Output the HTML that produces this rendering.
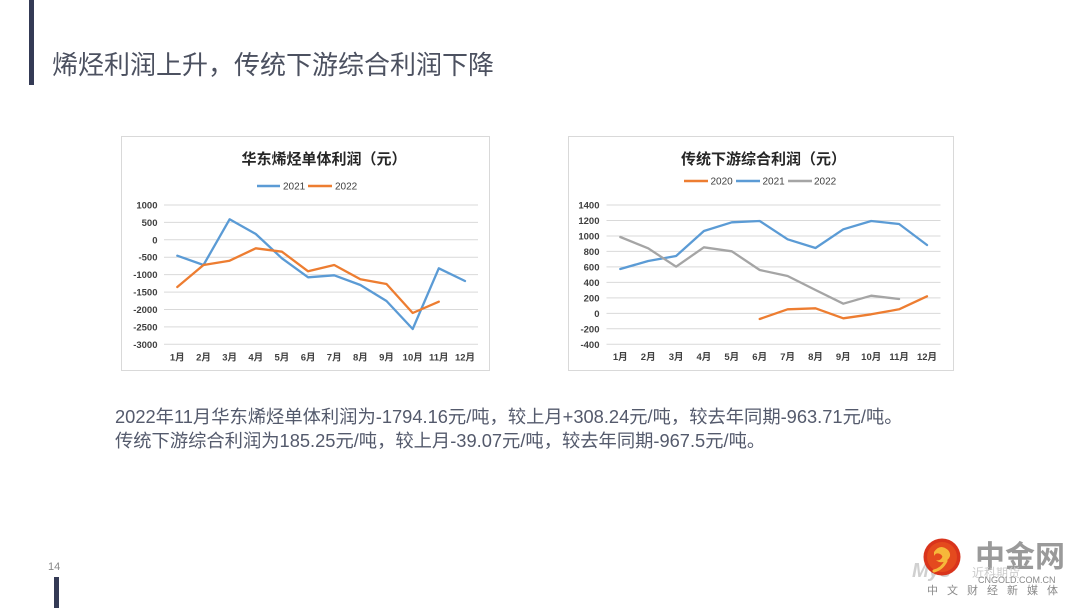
<!DOCTYPE html>
<html>
<head>
<meta charset="utf-8">
<style>
html,body{margin:0;padding:0;background:#fff;}
body{width:1080px;height:608px;position:relative;overflow:hidden;font-family:"Liberation Sans","Noto Sans CJK SC",sans-serif;}
.bar{position:absolute;background:#343a55;}
.title{position:absolute;left:52px;top:49px;font-size:26px;line-height:32px;color:#4c5160;font-family:"Liberation Sans","Noto Sans CJK SC",sans-serif;white-space:nowrap;}
.para{position:absolute;left:115px;top:405px;font-size:18.3px;line-height:24px;color:#545a6c;font-family:"Liberation Sans","Noto Sans CJK SC",sans-serif;white-space:nowrap;}
.pg{position:absolute;left:48px;top:561px;font-size:11px;color:#888;}
svg{position:absolute;left:0;top:0;}
</style>
</head>
<body>
<div class="bar" style="left:29px;top:0;width:5px;height:85px;"></div>
<div class="title">烯烃利润上升，传统下游综合利润下降</div>
<div class="para">2022年11月华东烯烃单体利润为-1794.16元/吨，较上月+308.24元/吨，较去年同期-963.71元/吨。<br>传统下游综合利润为185.25元/吨，较上月-39.07元/吨，较去年同期-967.5元/吨。</div>
<div class="pg">14</div>
<div class="bar" style="left:54px;top:577px;width:5px;height:31px;"></div>

<svg width="1080" height="608" viewBox="0 0 1080 608" xmlns="http://www.w3.org/2000/svg">
  <!-- LEFT CHART -->
  <rect x="121.5" y="136.5" width="368" height="234" fill="#fff" stroke="#d9d9d9" stroke-width="1"/>
  <text x="324" y="164" text-anchor="middle" font-family="Liberation Sans,Noto Sans CJK SC,sans-serif" font-weight="bold" font-size="15" fill="#262626">华东烯烃单体利润（元）</text>
  <line x1="257" y1="186" x2="280" y2="186" stroke="#5b9bd5" stroke-width="2.5"/>
  <text x="283" y="189.5" font-family="Liberation Sans,sans-serif" font-size="10" fill="#404040">2021</text>
  <line x1="308" y1="186" x2="332" y2="186" stroke="#ed7d31" stroke-width="2.5"/>
  <text x="335" y="189.5" font-family="Liberation Sans,sans-serif" font-size="10" fill="#404040">2022</text>
  <g stroke="#d9d9d9" stroke-width="1">
    <line x1="164" y1="205" x2="478" y2="205"/>
    <line x1="164" y1="222.4" x2="478" y2="222.4"/>
    <line x1="164" y1="239.8" x2="478" y2="239.8"/>
    <line x1="164" y1="257.2" x2="478" y2="257.2"/>
    <line x1="164" y1="274.6" x2="478" y2="274.6"/>
    <line x1="164" y1="292.1" x2="478" y2="292.1"/>
    <line x1="164" y1="309.5" x2="478" y2="309.5"/>
    <line x1="164" y1="326.9" x2="478" y2="326.9"/>
    <line x1="164" y1="344.3" x2="478" y2="344.3"/>
  </g>
  <g font-family="Liberation Sans,sans-serif" font-weight="bold" font-size="9.5" fill="#404040" text-anchor="end">
    <text x="157.5" y="208.5">1000</text>
    <text x="157.5" y="225.9">500</text>
    <text x="157.5" y="243.3">0</text>
    <text x="157.5" y="260.7">-500</text>
    <text x="157.5" y="278.1">-1000</text>
    <text x="157.5" y="295.6">-1500</text>
    <text x="157.5" y="313">-2000</text>
    <text x="157.5" y="330.4">-2500</text>
    <text x="157.5" y="347.8">-3000</text>
  </g>
  <g font-family="Liberation Sans,Noto Sans CJK SC,sans-serif" font-weight="bold" font-size="9.5" fill="#404040" text-anchor="middle">
    <text x="177.3" y="360.5">1月</text>
    <text x="203.5" y="360.5">2月</text>
    <text x="229.6" y="360.5">3月</text>
    <text x="255.8" y="360.5">4月</text>
    <text x="281.9" y="360.5">5月</text>
    <text x="308.1" y="360.5">6月</text>
    <text x="334.2" y="360.5">7月</text>
    <text x="360.4" y="360.5">8月</text>
    <text x="386.5" y="360.5">9月</text>
    <text x="412.7" y="360.5">10月</text>
    <text x="438.8" y="360.5">11月</text>
    <text x="465" y="360.5">12月</text>
  </g>
  <polyline fill="none" stroke="#5b9bd5" stroke-width="2.3" stroke-linejoin="round" stroke-linecap="round"
    points="177.3,255.7 203.5,265 229.6,219.3 255.8,234 281.9,258.3 308.1,277.3 334.2,275.3 360.4,285 386.5,301 412.7,329 438.8,268.3 465,281"/>
  <polyline fill="none" stroke="#ed7d31" stroke-width="2.3" stroke-linejoin="round" stroke-linecap="round"
    points="177.3,287 203.5,265 229.6,260.7 255.8,248.3 281.9,251.7 308.1,271.3 334.2,265 360.4,279.3 386.5,284 412.7,313 438.8,301.7"/>

  <!-- RIGHT CHART -->
  <rect x="568.5" y="136.5" width="385" height="234" fill="#fff" stroke="#d9d9d9" stroke-width="1"/>
  <text x="763.5" y="164" text-anchor="middle" font-family="Liberation Sans,Noto Sans CJK SC,sans-serif" font-weight="bold" font-size="15" fill="#262626">传统下游综合利润（元）</text>
  <line x1="684" y1="181" x2="708" y2="181" stroke="#ed7d31" stroke-width="2.5"/>
  <text x="710.5" y="184.5" font-family="Liberation Sans,sans-serif" font-size="10" fill="#404040">2020</text>
  <line x1="736" y1="181" x2="760" y2="181" stroke="#5b9bd5" stroke-width="2.5"/>
  <text x="762.5" y="184.5" font-family="Liberation Sans,sans-serif" font-size="10" fill="#404040">2021</text>
  <line x1="788" y1="181" x2="812" y2="181" stroke="#a5a5a5" stroke-width="2.5"/>
  <text x="814" y="184.5" font-family="Liberation Sans,sans-serif" font-size="10" fill="#404040">2022</text>
  <g stroke="#d9d9d9" stroke-width="1">
    <line x1="606.5" y1="205" x2="940.5" y2="205"/>
    <line x1="606.5" y1="220.5" x2="940.5" y2="220.5"/>
    <line x1="606.5" y1="236" x2="940.5" y2="236"/>
    <line x1="606.5" y1="251.4" x2="940.5" y2="251.4"/>
    <line x1="606.5" y1="266.9" x2="940.5" y2="266.9"/>
    <line x1="606.5" y1="282.4" x2="940.5" y2="282.4"/>
    <line x1="606.5" y1="297.9" x2="940.5" y2="297.9"/>
    <line x1="606.5" y1="313.4" x2="940.5" y2="313.4"/>
    <line x1="606.5" y1="328.8" x2="940.5" y2="328.8"/>
    <line x1="606.5" y1="344.3" x2="940.5" y2="344.3"/>
  </g>
  <g font-family="Liberation Sans,sans-serif" font-weight="bold" font-size="9.5" fill="#404040" text-anchor="end">
    <text x="599.5" y="208.5">1400</text>
    <text x="599.5" y="224">1200</text>
    <text x="599.5" y="239.5">1000</text>
    <text x="599.5" y="254.9">800</text>
    <text x="599.5" y="270.4">600</text>
    <text x="599.5" y="285.9">400</text>
    <text x="599.5" y="301.4">200</text>
    <text x="599.5" y="316.9">0</text>
    <text x="599.5" y="332.3">-200</text>
    <text x="599.5" y="347.8">-400</text>
  </g>
  <g font-family="Liberation Sans,Noto Sans CJK SC,sans-serif" font-weight="bold" font-size="9.5" fill="#404040" text-anchor="middle">
    <text x="620.3" y="360">1月</text>
    <text x="648.2" y="360">2月</text>
    <text x="676.1" y="360">3月</text>
    <text x="703.9" y="360">4月</text>
    <text x="731.8" y="360">5月</text>
    <text x="759.7" y="360">6月</text>
    <text x="787.6" y="360">7月</text>
    <text x="815.5" y="360">8月</text>
    <text x="843.3" y="360">9月</text>
    <text x="871.2" y="360">10月</text>
    <text x="899.1" y="360">11月</text>
    <text x="927" y="360">12月</text>
  </g>
  <polyline fill="none" stroke="#5b9bd5" stroke-width="2.3" stroke-linejoin="round" stroke-linecap="round"
    points="620.3,269 648.2,261 676.1,256 703.9,231 731.8,222.3 759.7,221 787.6,239.3 815.5,248 843.3,229.3 871.2,221 899.1,224 927,245"/>
  <polyline fill="none" stroke="#a5a5a5" stroke-width="2.3" stroke-linejoin="round" stroke-linecap="round"
    points="620.3,237 648.2,248.3 676.1,266.7 703.9,247.3 731.8,251.3 759.7,270 787.6,276 815.5,290 843.3,303.7 871.2,295.7 899.1,299"/>
  <polyline fill="none" stroke="#ed7d31" stroke-width="2.3" stroke-linejoin="round" stroke-linecap="round"
    points="759.7,319 787.6,309.3 815.5,308.3 843.3,318.3 871.2,314.3 899.1,309.3 927,296.3"/>

  <!-- LOGO -->
  <text x="912" y="577" font-family="Liberation Sans,sans-serif" font-style="italic" font-weight="bold" font-size="20" fill="#d0d0d0">Mys</text>
  <circle cx="942" cy="557" r="18.5" fill="#d9341c"/>
  <circle cx="942" cy="557" r="15" fill="#e44a1e"/>
  <path d="M934,552 q6,-9 14,-2 q5,6 -2,11 q-6,3 -10,-1 q3,1 5,-1 q3,-3 -1,-5 q-4,-2 -6,2 z" fill="#f6b83a"/>
  <path d="M946,561 q-4,8 -12,10" fill="none" stroke="#f6b83a" stroke-width="3" stroke-linecap="round"/>
  <text x="975" y="567" font-family="Liberation Sans,Noto Sans CJK SC,sans-serif" font-weight="bold" font-size="30" fill="#9a9a9a">中金网</text>
  <text x="972" y="577" font-family="Liberation Sans,Noto Sans CJK SC,sans-serif" font-size="12" fill="#cccccc">近科期货</text>
  <text x="978" y="583" font-family="Liberation Sans,sans-serif" font-size="9" fill="#8a8a8a">CNGOLD.COM.CN</text>
  <text x="927" y="594" font-family="Liberation Sans,Noto Sans CJK SC,sans-serif" font-size="11" fill="#8a8a8a" letter-spacing="9">中文财经新媒体</text>
</svg>
</body>
</html>
